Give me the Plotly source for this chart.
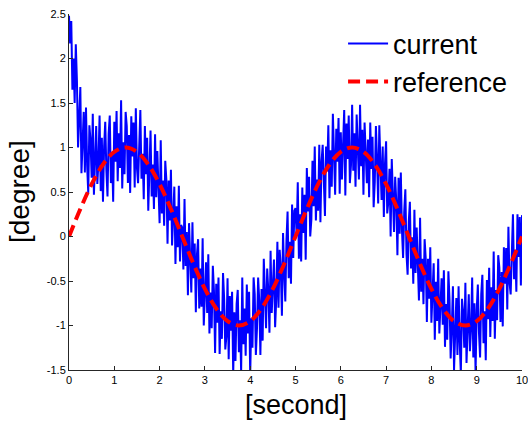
import plotly.graph_objects as go

# ---- data ----
current_t0 = 0.0
current_dt = 0.025
current = [
    # 0.000 - 2.475
    2.48, 2.17, 2.42, 1.65, 2.00, 1.50, 2.16, 1.75, 1.00, 1.27,
    1.68, 0.71, 1.22, 1.40, 0.72, 1.45, 0.80, 0.49, 1.25, 1.08,
    0.66, 1.38, 0.47, 0.97, 1.24, 0.59, 0.84, 1.36, 0.51, 1.11,
    0.39, 1.01, 1.29, 0.74, 0.45, 1.15, 1.36, 0.60, 0.95, 0.39,
    1.29, 0.84, 1.41, 0.62, 1.16, 0.77, 1.53, 0.54, 1.06, 0.70,
    1.40, 1.24, 0.60, 1.14, 0.49, 1.35, 0.90, 1.28, 0.55, 1.44,
    0.77, 0.60, 1.15, 1.42, 0.65, 0.93, 0.42, 1.24, 0.70, 1.11,
    0.29, 0.95, 1.19, 0.45, 0.81, 0.31, 1.15, 0.44, 0.96, 0.55,
    0.15, 1.08, 0.26, 0.63, 0.12, 0.85, 0.63, -0.08, 0.63, 0.18,
    0.75, -0.10, 0.25, 0.56, -0.31, 0.34, -0.12, 0.57, -0.28, 0.13,
    # 2.500 - 4.975
    0.10, -0.37, 0.42, -0.33, 0.05, -0.66, 0.15, -0.22, -0.63, 0.16,
    -0.47, -0.08, -0.85, -0.20, -0.03, -0.81, -0.36, -0.79, -0.02, -1.00,
    -0.65, -0.29, -0.86, -0.20, -1.09, -0.63, -1.03, -0.33, -0.61, -1.31,
    -0.53, -0.97, -0.46, -1.32, -0.84, -1.15, -0.41, -0.70, -1.27, -1.12,
    -0.47, -1.38, -0.67, -1.06, -0.62, -1.55, -0.85, -1.40, -0.76, -0.60,
    -1.30, -0.94, -1.52, -0.46, -1.21, -0.81, -1.34, -0.54, -1.09, -0.62,
    -1.56, -0.92, -1.25, -0.46, -0.65, -1.33, -1.03, -0.46, -0.72, -1.33,
    -0.59, -1.17, -0.25, -0.80, -1.03, -0.36, -0.61, -1.08, -0.16, -0.86,
    -0.44, -0.26, -1.02, -0.71, -0.06, -0.80, -0.15, -0.35, -0.89, 0.04,
    -0.41, -0.73, -0.05, 0.28, -0.47, -0.06, -0.53, 0.36, -0.24, 0.29,
    # 5.000 - 7.475
    0.32, 0.01, 0.61, -0.25, 0.25, -0.28, 0.55, 0.04, 0.47, -0.26,
    0.77, 0.28, 0.67, 0.00, 0.19, 0.85, 0.34, 1.01, 0.18, 0.64,
    0.29, 1.03, 0.16, 0.84, 1.03, 0.49, 0.23, 1.01, 0.73, 1.25,
    0.43, 0.97, 0.56, 1.38, 0.72, 0.47, 1.21, 0.84, 1.33, 0.48,
    1.17, 0.64, 1.03, 1.42, 0.46, 1.27, 0.87, 1.36, 0.60, 0.80,
    1.48, 0.74, 1.16, 0.56, 1.37, 0.99, 0.64, 1.48, 0.79, 1.20,
    0.47, 1.28, 0.83, 0.60, 1.09, 0.44, 1.28, 0.76, 1.12, 0.33,
    0.61, 1.24, 0.87, 0.37, 1.25, 0.66, 0.41, 1.01, 0.22, 0.81,
    1.07, 0.26, 0.39, 0.76, 0.00, 0.87, 0.35, 0.05, 0.67, 0.39,
    -0.21, 0.66, 0.03, 0.72, 0.07, -0.24, 0.28, 0.53, -0.20, -0.43,
    # 7.500 - 10.000
    0.16, 0.39, -0.36, -0.01, -0.53, 0.30, -0.41, 0.10, -0.31, -0.72,
    0.21, -0.62, -0.25, -0.76, -0.03, -0.25, -0.96, -0.25, -0.70, -0.12,
    -0.97, -0.61, -0.30, -1.16, -0.51, -0.95, -0.25, -1.09, -0.67, -0.47,
    -0.99, -0.38, -1.24, -0.76, -1.16, -0.39, -0.71, -1.37, -1.03, -0.56,
    -1.50, -0.91, -0.69, -1.33, -0.56, -1.19, -1.54, -0.70, -0.85, -1.25,
    -0.52, -1.42, -0.92, -0.65, -1.29, -1.04, -0.46, -1.36, -0.75, -1.53,
    -0.83, -0.54, -1.08, -1.36, -0.65, -0.43, -1.20, -0.84, -1.39, -0.49,
    -0.93, -0.35, -1.13, -0.57, -0.95, -0.17, -1.15, -0.60, -0.94, -0.21,
    -0.35, -0.96, -0.40, -1.01, -0.12, -0.53, -0.13, -0.82, 0.11, -0.52,
    -0.65, -0.06, 0.25, -0.48, -0.15, -0.62, 0.25, -0.23, 0.22, -0.55,
    0.24,
]

reference_t0 = 0.0
reference_dt = 0.25
reference = [
    0.0, 0.309, 0.588, 0.809, 0.951, 1.0, 0.951, 0.809, 0.588, 0.309,
    0.0, -0.309, -0.588, -0.809, -0.951, -1.0, -0.951, -0.809, -0.588, -0.309,
    0.0, 0.309, 0.588, 0.809, 0.951, 1.0, 0.951, 0.809, 0.588, 0.309,
    0.0, -0.309, -0.588, -0.809, -0.951, -1.0, -0.951, -0.809, -0.588, -0.309,
    0.0,
]

x_ticks = [0, 1, 2, 3, 4, 5, 6, 7, 8, 9, 10]
x_tick_labels = ["0", "1", "2", "3", "4", "5", "6", "7", "8", "9", "10"]
y_ticks = [-1.5, -1, -0.5, 0, 0.5, 1, 1.5, 2, 2.5]
y_tick_labels = ["-1.5", "-1", "-0.5", "0", "0.5", "1", "1.5", "2", "2.5"]

FONT = "Liberation Sans, Arial, Helvetica, sans-serif"

fig = go.Figure()
fig.add_trace(go.Scatter(
    y=current, x0=current_t0, dx=current_dt, mode="lines", name="current",
    line=dict(color="#0000ff", width=2),
))
fig.add_trace(go.Scatter(
    y=reference, x0=reference_t0, dx=reference_dt, mode="lines", name="reference",
    line=dict(color="#ff0000", width=4, dash="12px,6px", shape="spline", smoothing=1.0),
))

axis_common = dict(
    showline=True, linecolor="#262626", linewidth=1, mirror=False,
    ticks="inside", ticklen=4, tickwidth=1, tickcolor="#262626",
    showgrid=False, zeroline=False, automargin=False,
    tickfont=dict(family=FONT, size=11, color="black"),
)

fig.update_layout(
    width=528, height=421,
    margin=dict(l=69, r=6, t=14, b=51, autoexpand=False),
    paper_bgcolor="white", plot_bgcolor="white",
    font=dict(family=FONT, color="black"),
    xaxis=dict(range=[0, 10], tickvals=x_ticks, ticktext=x_tick_labels,
               ticklabeloverflow="allow", **axis_common),
    yaxis=dict(range=[-1.5, 2.5], tickvals=y_ticks, ticktext=y_tick_labels, **axis_common),
    showlegend=True,
    legend=dict(
        x=0.605, y=0.985, xanchor="left", yanchor="top",
        bgcolor="rgba(0,0,0,0)", borderwidth=0,
        font=dict(family=FONT, size=27, color="black"),
        itemwidth=40, tracegroupgap=0,
    ),
    annotations=[
        dict(text="[second]", xref="paper", yref="paper", x=0.5, y=0,
             yshift=-35, xanchor="center", yanchor="middle", showarrow=False,
             font=dict(family=FONT, size=27, color="black")),
        dict(text="[degree]", xref="paper", yref="paper", x=0, y=0.5,
             xshift=-50, xanchor="center", yanchor="middle", showarrow=False,
             textangle=-90,
             font=dict(family=FONT, size=28, color="black")),
    ],
)

fig.write_html("out.html")
